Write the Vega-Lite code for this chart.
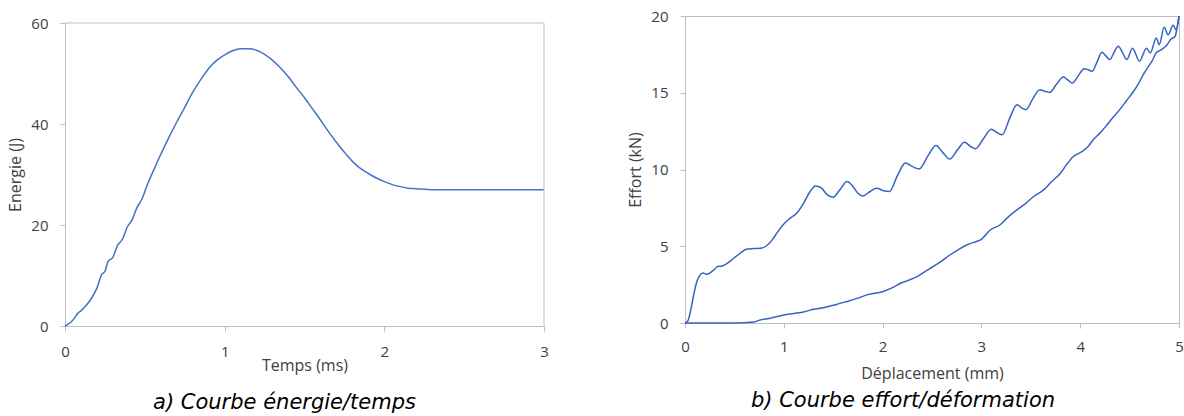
{
  "$schema": "https://vega.github.io/schema/vega-lite/v6.json",
  "background": "white",
  "padding": {"left": 7, "top": 8, "right": 0, "bottom": 0},
  "spacing": 78,
  "config": {
    "font": "Open Sans",
    "view": {"stroke": "#bfbfbf", "strokeWidth": 1},
    "axis": {
      "grid": false,
      "labelFont": "Open Sans",
      "labelFontSize": 15,
      "labelColor": "#404040",
      "labelFlush": false,
      "titleFont": "Open Sans",
      "titleFontSize": 16,
      "titleFontWeight": "normal",
      "titleColor": "#404040",
      "domainColor": "#bfbfbf",
      "tickColor": "#bfbfbf",
      "tickSize": 5,
      "format": "d"
    },
    "axisX": {"labelPadding": 13},
    "axisY": {"labelPadding": 12}
  },
  "hconcat": [
    {
      "width": 479,
      "height": 310,
      "view": {"stroke": null},
      "title": {
        "text": "a) Courbe énergie/temps",
        "orient": "bottom",
        "anchor": "middle",
        "font": "DejaVu Sans",
        "fontStyle": "italic",
        "fontWeight": "normal",
        "fontSize": 21,
        "color": "#000000",
        "offset": 19,
        "dx": -20
      },
      "layer": [
        {
          "data": {"values": [
            {"t": 0, "E": 0}, {"t": 0.03, "E": 0.6}, {"t": 0.05, "E": 1.2}, {"t": 0.08, "E": 2.5},
            {"t": 0.1, "E": 3.0}, {"t": 0.13, "E": 4.0}, {"t": 0.16, "E": 5.2}, {"t": 0.2, "E": 7.5},
            {"t": 0.23, "E": 10.2}, {"t": 0.25, "E": 10.8}, {"t": 0.27, "E": 12.8}, {"t": 0.3, "E": 13.6},
            {"t": 0.33, "E": 16.0}, {"t": 0.36, "E": 17.2}, {"t": 0.39, "E": 19.6}, {"t": 0.42, "E": 21.0},
            {"t": 0.45, "E": 23.4}, {"t": 0.48, "E": 25.0}, {"t": 0.52, "E": 28.3}, {"t": 0.56, "E": 31.2},
            {"t": 0.6, "E": 34.0}, {"t": 0.65, "E": 37.3}, {"t": 0.7, "E": 40.4}, {"t": 0.75, "E": 43.3},
            {"t": 0.8, "E": 46.3}, {"t": 0.85, "E": 48.8}, {"t": 0.9, "E": 51.0}, {"t": 0.95, "E": 52.6},
            {"t": 1.0, "E": 53.7}, {"t": 1.05, "E": 54.5}, {"t": 1.1, "E": 54.9}, {"t": 1.15, "E": 54.9},
            {"t": 1.2, "E": 54.6}, {"t": 1.25, "E": 53.8}, {"t": 1.3, "E": 52.6}, {"t": 1.35, "E": 51.1},
            {"t": 1.4, "E": 49.3}, {"t": 1.45, "E": 47.2}, {"t": 1.5, "E": 45.2}, {"t": 1.55, "E": 43.0},
            {"t": 1.6, "E": 40.8}, {"t": 1.65, "E": 38.5}, {"t": 1.7, "E": 36.4}, {"t": 1.75, "E": 34.4},
            {"t": 1.8, "E": 32.6}, {"t": 1.85, "E": 31.2}, {"t": 1.9, "E": 30.2}, {"t": 1.95, "E": 29.3},
            {"t": 2.0, "E": 28.6}, {"t": 2.05, "E": 28.0}, {"t": 2.1, "E": 27.6}, {"t": 2.15, "E": 27.3},
            {"t": 2.2, "E": 27.2}, {"t": 2.3, "E": 27.0}, {"t": 2.5, "E": 27.0}, {"t": 2.75, "E": 27.0},
            {"t": 3.0, "E": 27.0}
          ]},
          "mark": {"type": "line", "color": "#4472c4", "strokeWidth": 1.5, "interpolate": "monotone"},
          "encoding": {
            "x": {"field": "t", "type": "quantitative",
                  "scale": {"domain": [0, 3], "nice": false},
                  "axis": {"values": [0, 1, 2, 3], "title": "Temps (ms)", "titlePadding": -2}},
            "y": {"field": "E", "type": "quantitative",
                  "scale": {"domain": [0, 60], "nice": false, "range": [310, 7]},
                  "axis": {"values": [0, 20, 40, 60], "title": "Energie (J)", "titlePadding": 7}}
          }
        },
        {
          "data": {"values": [{}]},
          "mark": {"type": "rule", "color": "#bfbfbf", "strokeWidth": 1},
          "encoding": {"y": {"datum": 60, "type": "quantitative"}}
        },
        {
          "data": {"values": [{}]},
          "mark": {"type": "rule", "color": "#bfbfbf", "strokeWidth": 1},
          "encoding": {
            "x": {"datum": 3, "type": "quantitative"},
            "y": {"datum": 0, "type": "quantitative"},
            "y2": {"datum": 60}
          }
        }
      ]
    },
    {
      "width": 494,
      "height": 307,
      "title": {
        "text": "b) Courbe effort/déformation",
        "orient": "bottom",
        "anchor": "middle",
        "font": "DejaVu Sans",
        "fontStyle": "italic",
        "fontWeight": "normal",
        "fontSize": 21,
        "color": "#000000",
        "offset": 9,
        "dx": -29
      },
      "data": {"values": [
        {"branch": "charge", "d": 0, "F": 0}, {"branch": "charge", "d": 0.03, "F": 0.15},
        {"branch": "charge", "d": 0.06, "F": 0.9}, {"branch": "charge", "d": 0.09, "F": 1.9},
        {"branch": "charge", "d": 0.12, "F": 2.7}, {"branch": "charge", "d": 0.15, "F": 3.1},
        {"branch": "charge", "d": 0.18, "F": 3.25}, {"branch": "charge", "d": 0.22, "F": 3.18},
        {"branch": "charge", "d": 0.26, "F": 3.3}, {"branch": "charge", "d": 0.3, "F": 3.5},
        {"branch": "charge", "d": 0.33, "F": 3.68}, {"branch": "charge", "d": 0.37, "F": 3.7},
        {"branch": "charge", "d": 0.42, "F": 3.85}, {"branch": "charge", "d": 0.49, "F": 4.2},
        {"branch": "charge", "d": 0.56, "F": 4.55}, {"branch": "charge", "d": 0.62, "F": 4.8},
        {"branch": "charge", "d": 0.69, "F": 4.85}, {"branch": "charge", "d": 0.76, "F": 4.87},
        {"branch": "charge", "d": 0.82, "F": 5.0}, {"branch": "charge", "d": 0.88, "F": 5.4},
        {"branch": "charge", "d": 0.94, "F": 5.95}, {"branch": "charge", "d": 1.0, "F": 6.45},
        {"branch": "charge", "d": 1.06, "F": 6.8}, {"branch": "charge", "d": 1.13, "F": 7.15},
        {"branch": "charge", "d": 1.2, "F": 7.8}, {"branch": "charge", "d": 1.26, "F": 8.5},
        {"branch": "charge", "d": 1.32, "F": 8.93}, {"branch": "charge", "d": 1.38, "F": 8.8},
        {"branch": "charge", "d": 1.44, "F": 8.35}, {"branch": "charge", "d": 1.5, "F": 8.2},
        {"branch": "charge", "d": 1.57, "F": 8.7}, {"branch": "charge", "d": 1.64, "F": 9.22},
        {"branch": "charge", "d": 1.7, "F": 8.9}, {"branch": "charge", "d": 1.75, "F": 8.45},
        {"branch": "charge", "d": 1.8, "F": 8.28}, {"branch": "charge", "d": 1.87, "F": 8.55},
        {"branch": "charge", "d": 1.94, "F": 8.78}, {"branch": "charge", "d": 2.01, "F": 8.62},
        {"branch": "charge", "d": 2.07, "F": 8.57}, {"branch": "charge", "d": 2.15, "F": 9.6},
        {"branch": "charge", "d": 2.23, "F": 10.42}, {"branch": "charge", "d": 2.3, "F": 10.2},
        {"branch": "charge", "d": 2.37, "F": 10.03}, {"branch": "charge", "d": 2.46, "F": 10.9},
        {"branch": "charge", "d": 2.54, "F": 11.57}, {"branch": "charge", "d": 2.61, "F": 11.1},
        {"branch": "charge", "d": 2.68, "F": 10.68}, {"branch": "charge", "d": 2.76, "F": 11.3},
        {"branch": "charge", "d": 2.83, "F": 11.77}, {"branch": "charge", "d": 2.89, "F": 11.5},
        {"branch": "charge", "d": 2.94, "F": 11.35}, {"branch": "charge", "d": 3.02, "F": 12.0},
        {"branch": "charge", "d": 3.1, "F": 12.63}, {"branch": "charge", "d": 3.16, "F": 12.4},
        {"branch": "charge", "d": 3.21, "F": 12.26}, {"branch": "charge", "d": 3.29, "F": 13.4},
        {"branch": "charge", "d": 3.36, "F": 14.22}, {"branch": "charge", "d": 3.41, "F": 14.0},
        {"branch": "charge", "d": 3.45, "F": 13.9}, {"branch": "charge", "d": 3.52, "F": 14.6},
        {"branch": "charge", "d": 3.59, "F": 15.2}, {"branch": "charge", "d": 3.64, "F": 15.1},
        {"branch": "charge", "d": 3.69, "F": 15.02}, {"branch": "charge", "d": 3.76, "F": 15.55},
        {"branch": "charge", "d": 3.83, "F": 16.03}, {"branch": "charge", "d": 3.88, "F": 15.8},
        {"branch": "charge", "d": 3.92, "F": 15.63}, {"branch": "charge", "d": 3.98, "F": 16.1},
        {"branch": "charge", "d": 4.04, "F": 16.57}, {"branch": "charge", "d": 4.08, "F": 16.5},
        {"branch": "charge", "d": 4.12, "F": 16.4}, {"branch": "charge", "d": 4.17, "F": 17.0},
        {"branch": "charge", "d": 4.22, "F": 17.64}, {"branch": "charge", "d": 4.26, "F": 17.4},
        {"branch": "charge", "d": 4.3, "F": 17.16}, {"branch": "charge", "d": 4.34, "F": 17.6},
        {"branch": "charge", "d": 4.385, "F": 18.03}, {"branch": "charge", "d": 4.43, "F": 17.6},
        {"branch": "charge", "d": 4.47, "F": 17.16}, {"branch": "charge", "d": 4.53, "F": 17.9},
        {"branch": "charge", "d": 4.6, "F": 17.05}, {"branch": "charge", "d": 4.67, "F": 17.9},
        {"branch": "charge", "d": 4.71, "F": 17.6}, {"branch": "charge", "d": 4.77, "F": 18.57},
        {"branch": "charge", "d": 4.8, "F": 18.13}, {"branch": "charge", "d": 4.85, "F": 19.27},
        {"branch": "charge", "d": 4.89, "F": 18.77}, {"branch": "charge", "d": 4.94, "F": 19.4},
        {"branch": "charge", "d": 4.97, "F": 19.1}, {"branch": "charge", "d": 5.0, "F": 20.0},
        {"branch": "decharge", "d": 0, "F": 0}, {"branch": "decharge", "d": 0.2, "F": 0},
        {"branch": "decharge", "d": 0.4, "F": 0}, {"branch": "decharge", "d": 0.6, "F": 0.02},
        {"branch": "decharge", "d": 0.7, "F": 0.06}, {"branch": "decharge", "d": 0.76, "F": 0.2},
        {"branch": "decharge", "d": 0.85, "F": 0.3}, {"branch": "decharge", "d": 1.0, "F": 0.52},
        {"branch": "decharge", "d": 1.1, "F": 0.62}, {"branch": "decharge", "d": 1.2, "F": 0.72},
        {"branch": "decharge", "d": 1.3, "F": 0.89}, {"branch": "decharge", "d": 1.4, "F": 1.0},
        {"branch": "decharge", "d": 1.5, "F": 1.15}, {"branch": "decharge", "d": 1.57, "F": 1.28},
        {"branch": "decharge", "d": 1.65, "F": 1.42}, {"branch": "decharge", "d": 1.75, "F": 1.62},
        {"branch": "decharge", "d": 1.85, "F": 1.85}, {"branch": "decharge", "d": 2.0, "F": 2.04},
        {"branch": "decharge", "d": 2.1, "F": 2.3}, {"branch": "decharge", "d": 2.18, "F": 2.59},
        {"branch": "decharge", "d": 2.26, "F": 2.78}, {"branch": "decharge", "d": 2.35, "F": 3.02},
        {"branch": "decharge", "d": 2.43, "F": 3.35}, {"branch": "decharge", "d": 2.51, "F": 3.67},
        {"branch": "decharge", "d": 2.6, "F": 4.05}, {"branch": "decharge", "d": 2.68, "F": 4.43},
        {"branch": "decharge", "d": 2.76, "F": 4.75}, {"branch": "decharge", "d": 2.85, "F": 5.08},
        {"branch": "decharge", "d": 2.92, "F": 5.25}, {"branch": "decharge", "d": 2.99, "F": 5.41},
        {"branch": "decharge", "d": 3.09, "F": 6.06}, {"branch": "decharge", "d": 3.19, "F": 6.4},
        {"branch": "decharge", "d": 3.27, "F": 6.9}, {"branch": "decharge", "d": 3.36, "F": 7.37},
        {"branch": "decharge", "d": 3.44, "F": 7.75}, {"branch": "decharge", "d": 3.53, "F": 8.24},
        {"branch": "decharge", "d": 3.63, "F": 8.67}, {"branch": "decharge", "d": 3.71, "F": 9.2},
        {"branch": "decharge", "d": 3.8, "F": 9.76}, {"branch": "decharge", "d": 3.86, "F": 10.3},
        {"branch": "decharge", "d": 3.93, "F": 10.85}, {"branch": "decharge", "d": 4.0, "F": 11.1},
        {"branch": "decharge", "d": 4.08, "F": 11.5}, {"branch": "decharge", "d": 4.14, "F": 12.0},
        {"branch": "decharge", "d": 4.2, "F": 12.37}, {"branch": "decharge", "d": 4.27, "F": 12.9},
        {"branch": "decharge", "d": 4.34, "F": 13.45}, {"branch": "decharge", "d": 4.4, "F": 13.9},
        {"branch": "decharge", "d": 4.47, "F": 14.5}, {"branch": "decharge", "d": 4.53, "F": 15.0},
        {"branch": "decharge", "d": 4.59, "F": 15.6}, {"branch": "decharge", "d": 4.64, "F": 16.2},
        {"branch": "decharge", "d": 4.69, "F": 16.7}, {"branch": "decharge", "d": 4.73, "F": 17.1},
        {"branch": "decharge", "d": 4.77, "F": 17.6}, {"branch": "decharge", "d": 4.82, "F": 17.8},
        {"branch": "decharge", "d": 4.875, "F": 18.1}, {"branch": "decharge", "d": 4.92, "F": 18.5},
        {"branch": "decharge", "d": 4.96, "F": 18.66}, {"branch": "decharge", "d": 4.98, "F": 19.2},
        {"branch": "decharge", "d": 5.0, "F": 20.0}
      ]},
      "mark": {"type": "line", "color": "#3563c1", "strokeWidth": 1.5, "interpolate": "monotone"},
      "encoding": {
        "detail": {"field": "branch", "type": "nominal"},
        "x": {"field": "d", "type": "quantitative",
              "scale": {"domain": [0, 5], "nice": false},
              "axis": {"values": [0, 1, 2, 3, 4, 5], "title": "Déplacement (mm)", "titlePadding": 11, "labelPadding": 11}},
        "y": {"field": "F", "type": "quantitative",
              "scale": {"domain": [0, 20], "nice": false},
              "axis": {"values": [0, 5, 10, 15, 20], "title": "Effort (kN)", "titlePadding": 7}}
      }
    }
  ]
}
